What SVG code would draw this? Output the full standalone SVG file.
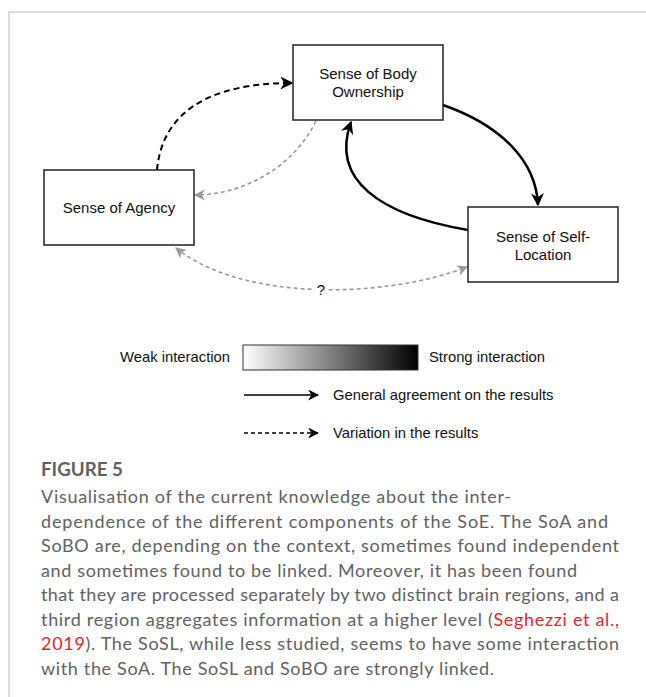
<svg xmlns="http://www.w3.org/2000/svg" width="646" height="697" viewBox="0 0 646 697">
<defs>
<style>
.box{fill:#fff;stroke:#222;stroke-width:1.5}
.lbl{font-family:"Liberation Sans",Arial,sans-serif;font-size:15px;fill:#111;text-anchor:middle}
.leg{font-family:"Liberation Sans",Arial,sans-serif;font-size:14.8px;fill:#111}
.cap{font-family:Lato,"Open Sans",sans-serif;font-size:18px;fill:#626262}
.red{fill:#e0282e}
.solid{fill:none;stroke:#000;stroke-width:2.5}
.dblack{fill:none;stroke:#000;stroke-width:2;stroke-dasharray:6 4}
.dgray{fill:none;stroke:#999;stroke-width:1.6;stroke-dasharray:4 3}
</style>
<marker id="ab" viewBox="0 0 10 10" refX="9" refY="5" markerUnits="userSpaceOnUse" markerWidth="13" markerHeight="13" orient="auto-start-reverse">
<path d="M0,0 L10,5 L0,10 L3,5 z" fill="#000"/>
</marker>
<marker id="ag" viewBox="0 0 10 10" refX="9" refY="5" markerUnits="userSpaceOnUse" markerWidth="11" markerHeight="11" orient="auto-start-reverse">
<path d="M0,0 L10,5 L0,10 L3,5 z" fill="#999"/>
</marker>
<marker id="al" viewBox="0 0 10 10" refX="9" refY="5" markerUnits="userSpaceOnUse" markerWidth="11" markerHeight="11" orient="auto">
<path d="M0,0 L10,5 L0,10 L3,5 z" fill="#000"/>
</marker>
<linearGradient id="grad" x1="0" y1="0" x2="1" y2="0">
<stop offset="0" stop-color="#fff"/>
<stop offset="1" stop-color="#000"/>
</linearGradient>
</defs>
<rect x="0" y="0" width="646" height="697" fill="#fff"/>
<path d="M9,697 L9,12 L646,12" fill="none" stroke="#cfcfcf" stroke-width="1.5"/>

<g id="connectors">
<path class="dblack" d="M157,170 C162,115 205,83 292,83" marker-end="url(#ab)"/>
<path class="dgray" d="M316,121 C292,170 240,195 195,195" marker-end="url(#ag)"/>
<path class="dgray" d="M176,248 C240,300 380,300 467,267" marker-start="url(#ag)" marker-end="url(#ag)"/>
<path class="solid" d="M443,105 C500,125 536,160 538,205" marker-end="url(#ab)"/>
<path class="solid" d="M468,230 C380,215 330,180 351,122" marker-end="url(#ab)"/>
<rect x="315" y="281" width="12" height="16" fill="#fff"/>
<text class="lbl" x="321" y="295">?</text>
</g>

<g id="node-sobo">
<rect class="box" x="293" y="45" width="150" height="75"/>
<text class="lbl" x="368" y="79">Sense of Body</text>
<text class="lbl" x="368" y="97">Ownership</text>
</g>
<g id="node-soa">
<rect class="box" x="44" y="170" width="150" height="75"/>
<text class="lbl" x="119" y="213">Sense of Agency</text>
</g>
<g id="node-sosl">
<rect class="box" x="468" y="207" width="150" height="75"/>
<text class="lbl" x="543" y="242">Sense of Self-</text>
<text class="lbl" x="543" y="260">Location</text>
</g>

<g id="legend">
<text class="leg" x="230" y="362" text-anchor="end">Weak interaction</text>
<rect x="243" y="345" width="175" height="25" fill="url(#grad)" stroke="#333" stroke-width="1"/>
<text class="leg" x="429" y="362">Strong interaction</text>
<line x1="244" y1="395" x2="318" y2="395" stroke="#000" stroke-width="1.5" marker-end="url(#al)"/>
<text class="leg" x="333" y="400">General agreement on the results</text>
<line x1="244" y1="433" x2="318" y2="433" stroke="#000" stroke-width="1.5" stroke-dasharray="4 3" marker-end="url(#al)"/>
<text class="leg" x="333" y="438">Variation in the results</text>
</g>

<g id="caption">
<text class="cap" x="41" y="476" font-weight="700" textLength="82" lengthAdjust="spacingAndGlyphs">FIGURE 5</text>
<text class="cap" x="41" y="503" textLength="470" lengthAdjust="spacing">Visualisation of the current knowledge about the inter-</text>
<text class="cap" x="41" y="527.5" textLength="567" lengthAdjust="spacing">dependence of the different components of the SoE. The SoA and</text>
<text class="cap" x="41" y="552" textLength="578" lengthAdjust="spacing">SoBO are, depending on the context, sometimes found independent</text>
<text class="cap" x="41" y="576.5" textLength="536" lengthAdjust="spacing">and sometimes found to be linked. Moreover, it has been found</text>
<text class="cap" x="41" y="601" textLength="578" lengthAdjust="spacing">that they are processed separately by two distinct brain regions, and a</text>
<text class="cap" x="41" y="625.5" textLength="578" lengthAdjust="spacing">third region aggregates information at a higher level (<tspan class="red">Seghezzi et al.,</tspan></text>
<text class="cap" x="41" y="650" textLength="578" lengthAdjust="spacing"><tspan class="red">2019</tspan>). The SoSL, while less studied, seems to have some interaction</text>
<text class="cap" x="41" y="674.5" textLength="453" lengthAdjust="spacing">with the SoA. The SoSL and SoBO are strongly linked.</text>
</g>
</svg>
